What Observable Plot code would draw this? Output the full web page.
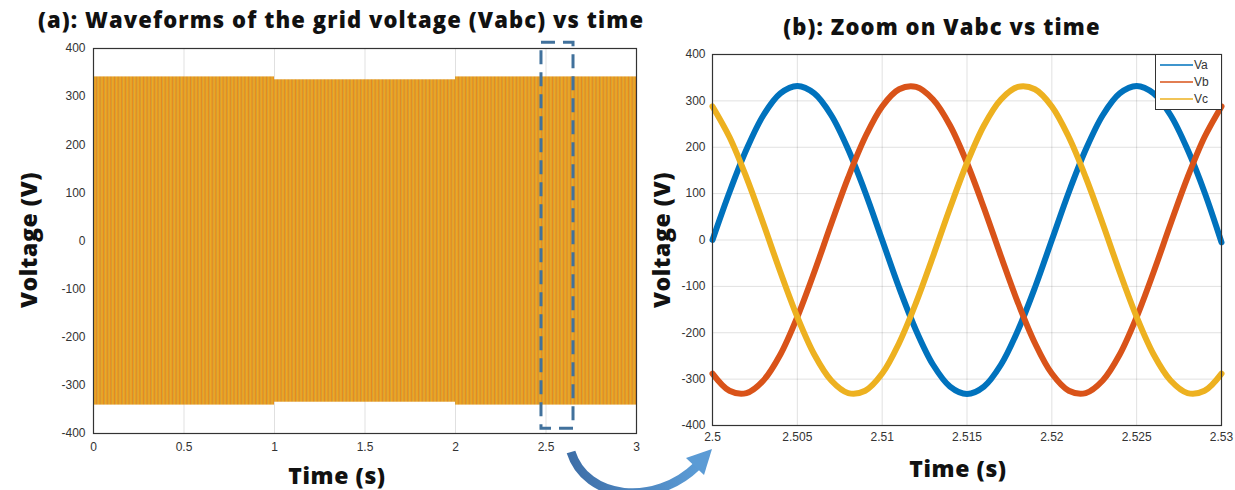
<!DOCTYPE html>
<html><head><meta charset="utf-8">
<script src="https://cdn.jsdelivr.net/npm/d3@7"></script>
<script src="https://cdn.jsdelivr.net/npm/@observablehq/plot@0.6"></script>
<style>
body{margin:0;background:#fff;width:1235px;height:490px;position:relative;overflow:hidden;font-family:"Liberation Sans",Arial,sans-serif}
.abs{position:absolute}
.t{font-family:"Open Sans",Lato,sans-serif;font-weight:800;color:#111;white-space:nowrap;transform:translate(-50%,-50%);line-height:1}
.title{font-size:22px;letter-spacing:1.1px}
.lab{font-size:23px;letter-spacing:0.6px}
.rot{transform:translate(-50%,-50%) rotate(-90deg)}
#legend{position:absolute;left:1155px;top:54px;width:67px;height:56px;border:1px solid #333;background:#fff;box-sizing:border-box}
</style></head><body>
<div id="left" class="abs" style="left:0;top:0"></div>
<div id="right" class="abs" style="left:640px;top:0"></div>
<div class="abs t title" style="left:341px;top:19px">(a): Waveforms of the grid voltage (Vabc) vs time</div>
<div class="abs t title" style="left:942px;top:26px">(b): Zoom on Vabc vs time</div>
<div class="abs t lab rot" style="left:28px;top:240px">Voltage (V)</div>
<div class="abs t lab rot" style="left:661px;top:240px">Voltage (V)</div>
<div class="abs t lab" style="left:337px;top:475px">Time (s)</div>
<div class="abs t lab" style="left:958px;top:468px">Time (s)</div>
<div id="legend"></div>
<svg class="abs" style="left:0;top:0;pointer-events:none" width="1235" height="490">
  <defs>
    <linearGradient id="arrowGrad" x1="0" y1="0" x2="1" y2="0">
      <stop offset="0" stop-color="#3E6FA8"/><stop offset="1" stop-color="#5B9BD5"/>
    </linearGradient>
  </defs>
  <path d="M 571 452 C 586 500, 655 507, 697 466" fill="none" stroke="url(#arrowGrad)" stroke-width="9"/>
  <polygon points="712,449 704,475 686,458" fill="#5B9BD5"/>
</svg>
<script>
// ---------- data ----------
const segStart = [0, 1, 2];
const segEnd   = [1, 2, 3];
const segAmp   = [341, 335, 341];

const zoomWindowT = [2.475, 2.652];
const zoomWindowV = [-390, 412];

const leftXTicks  = [0, 0.5, 1, 1.5, 2, 2.5, 3];
const voltTicks   = [-400, -300, -200, -100, 0, 100, 200, 300, 400];
const rightXTicks = [2.5, 2.505, 2.51, 2.515, 2.52, 2.525, 2.53];

const tZoom = [2.500, 2.501, 2.502, 2.503, 2.504, 2.505, 2.506, 2.507, 2.508, 2.509,
               2.510, 2.511, 2.512, 2.513, 2.514, 2.515, 2.516, 2.517, 2.518, 2.519,
               2.520, 2.521, 2.522, 2.523, 2.524, 2.525, 2.526, 2.527, 2.528, 2.529, 2.530];
const va = [0, 103, 195, 269, 316, 332, 316, 269, 195, 103,
            0, -103, -195, -269, -316, -332, -316, -269, -195, -103,
            0, 103, 195, 269, 316, 332, 316, 269, 195, 103, -5];
const vb = [-288, -325, -330, -303, -247, -166, -69, 35, 135, 222,
            288, 325, 330, 303, 247, 166, 69, -35, -135, -222,
            -288, -325, -330, -303, -247, -166, -69, 35, 135, 222, 288];
const vc = [288, 222, 135, 35, -69, -166, -247, -303, -330, -325,
            -288, -222, -135, -35, 69, 166, 247, 303, 330, 325,
            288, 222, 135, 35, -69, -166, -247, -303, -330, -325, -288];

const seriesNames  = ["Va", "Vb", "Vc"];
const seriesColors = ["#0072BD", "#D95319", "#EDB120"];
const seriesValues = [va, vb, vc];

// ---------- left chart ----------
const segs = segStart.map((s, i) => ({x1: s, x2: segEnd[i], top: segAmp[i], bot: -segAmp[i]}));
const zoomBox = [{x1: zoomWindowT[0], x2: zoomWindowT[1], y1: zoomWindowV[0], y2: zoomWindowV[1]}];
const gridStyle = {stroke: "#000", strokeOpacity: 0.12};
const fmt = d => String(+d.toFixed(3));
const tickStyle = {fontFamily: "Liberation Sans, Arial, sans-serif", fontSize: "12px", color: "#333", background: "transparent", overflow: "visible"};

const left = Plot.plot({
  width: 660, height: 490,
  marginLeft: 93, marginRight: 24, marginTop: 48, marginBottom: 57,
  x: {domain: [0, 3]},
  y: {domain: [-400, 400]},
  style: tickStyle,
  marks: [
    Plot.gridX(leftXTicks, gridStyle),
    Plot.gridY(voltTicks, gridStyle),
    Plot.rect(segs, {x1: "x1", x2: "x2", y1: "bot", y2: "top", fill: "url(#wave)"}),
    Plot.axisX(leftXTicks, {tickSize: 0, tickPadding: 9, tickFormat: fmt, label: null}),
    Plot.axisY(voltTicks, {tickSize: 0, tickPadding: 8, tickFormat: fmt, label: null}),
    Plot.frame({stroke: "#333", strokeWidth: 1.2}),
    Plot.rect(zoomBox, {x1: "x1", x2: "x2", y1: "y1", y2: "y2", fill: "none",
      stroke: "#41719C", strokeWidth: 3, strokeDasharray: "14,8", clip: false})
  ]
});
// stripe pattern for the dense waveform band
d3.select(left).insert("defs", ":first-child").html(`
  <pattern id="wave" patternUnits="userSpaceOnUse" width="3.62" height="10">
    <rect x="0" y="0" width="3.62" height="10" fill="#ECAA24"/>
    <rect x="1.6" y="0" width="0.9" height="10" fill="#DD6E1E" opacity="0.75"/>
    <rect x="2.9" y="0" width="0.6" height="10" fill="#8C8A70" opacity="0.45"/>
  </pattern>`);
document.getElementById("left").appendChild(left);

// ---------- right chart ----------
const rows = [];
seriesNames.forEach((name, s) => tZoom.forEach((t, i) => rows.push({t, v: seriesValues[s][i], name})));

const right = Plot.plot({
  width: 595, height: 490,
  marginLeft: 72, marginRight: 14, marginTop: 54, marginBottom: 65,
  x: {domain: [2.5, 2.53]},
  y: {domain: [-400, 400]},
  color: {domain: seriesNames, range: seriesColors},
  style: tickStyle,
  marks: [
    Plot.gridX(rightXTicks, gridStyle),
    Plot.gridY(voltTicks, gridStyle),
    Plot.line(rows, {x: "t", y: "v", z: "name", stroke: "name", strokeWidth: 6, curve: "catmull-rom"}),
    Plot.axisX(rightXTicks, {tickSize: 0, tickPadding: 7, tickFormat: fmt, label: null}),
    Plot.axisY(voltTicks, {tickSize: 0, tickPadding: 7, tickFormat: fmt, label: null}),
    Plot.frame({stroke: "#333", strokeWidth: 1.2})
  ]
});
document.getElementById("right").appendChild(right);

// ---------- legend ----------
const lg = d3.select("#legend").append("svg").attr("width", 65).attr("height", 54);
seriesNames.forEach((n, i) => {
  const y = 10 + i * 17;
  lg.append("line").attr("x1", 4).attr("x2", 37).attr("y1", y).attr("y2", y)
    .attr("stroke", seriesColors[i]).attr("stroke-width", 2).attr("opacity", 0.75);
  lg.append("text").attr("x", 38).attr("y", y + 4).text(n)
    .attr("font-family", "Liberation Sans, Arial, sans-serif").attr("font-size", 12).attr("fill", "#333");
});
</script>
</body></html>
